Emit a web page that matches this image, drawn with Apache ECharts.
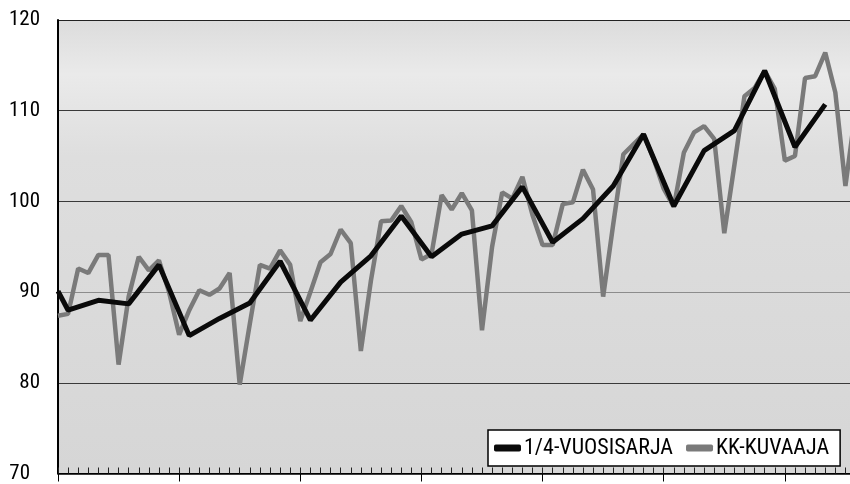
<!DOCTYPE html>
<html>
<head>
<meta charset="utf-8">
<script src="https://cdn.jsdelivr.net/npm/echarts@6/dist/echarts.min.js"></script>
<style>
html, body { margin: 0; padding: 0; background: #fff; overflow: hidden; }
/* chart is wider than the window: the last months run off the right edge as in the print */
#chart { width: 906px; height: 484px; }
</style>
</head>
<body>
<div id="chart"></div>
<script>
// quarterly series (plotted at mid-quarter month)
var quarterName = '1/4-VUOSISARJA';
var quarterMonth = [0, 1, 4, 7, 10, 13, 16, 19, 22, 25, 28, 31, 34, 37, 40, 43, 46, 49, 52, 55, 58, 61, 64, 67, 70, 73, 76];
var quarterValue = [90.1, 88.0, 89.1, 88.7, 93.0, 85.2, 87.1, 88.8, 93.4, 86.9, 91.1, 94.0, 98.4, 93.9, 96.4, 97.3,
    101.6, 95.5, 98.1, 101.7, 107.4, 99.5, 105.6, 107.8, 114.4, 106.0, 110.7];

// monthly series, one value per month from month 0
var monthName = 'KK-KUVAAJA';
var monthValue = [
    87.4, 87.6, 92.6, 92.1, 94.1, 94.1, 82.0, 89.5, 93.9, 92.4, 93.5, 90.0,
    85.3, 88.0, 90.2, 89.7, 90.4, 92.1, 79.8, 86.5, 93.0, 92.6, 94.6, 93.0,
    86.8, 90.0, 93.3, 94.2, 96.9, 95.4, 83.5, 91.3, 97.8, 97.9, 99.5, 97.7,
    93.6, 94.2, 100.7, 99.1, 100.9, 99.0, 85.8, 95.0, 101.0, 100.3, 102.7, 98.5,
    95.2, 95.2, 99.7, 99.9, 103.5, 101.3, 89.5, 97.5, 105.2, 106.3, 107.4, 104.7,
    101.4, 99.4, 105.4, 107.6, 108.3, 106.9, 96.5, 104.0, 111.6, 112.5, 114.4, 112.4,
    104.5, 105.0, 113.6, 113.8, 116.4, 112.0, 101.7, 110.0
];

var yMin = 70, yMax = 120, yStep = 10;
var monthsShown = 84;

var font = "'Liberation Sans Narrow', 'Roboto Condensed', 'DejaVu Sans Condensed', sans-serif";

var chart = echarts.init(document.getElementById('chart'));

var option = {
    animation: false,
    backgroundColor: '#fff',
    grid: {
        left: 58,
        right: 0,
        top: 20,
        bottom: 8,
        show: true,
        borderWidth: 0,
        backgroundColor: new echarts.graphic.LinearGradient(0, 0, 0, 1, [
            { offset: 0, color: '#dcdcdc' },
            { offset: 0.12, color: '#eaeaea' },
            { offset: 0.3, color: '#dedede' },
            { offset: 1, color: '#d6d6d6' }
        ])
    },
    legend: {
        left: 488,
        top: 430,
        padding: [7, 11, 7, 6],
        itemWidth: 27,
        itemHeight: 7,
        itemGap: 13,
        backgroundColor: '#fff',
        borderColor: '#000',
        borderWidth: 1.5,
        borderRadius: 0,
        icon: 'roundRect',
        data: [quarterName, monthName],
        textStyle: { fontFamily: font, fontSize: 22, color: '#000', padding: [0, 0, 0, -2] }
    },
    xAxis: [{
        type: 'value',
        min: 0,
        max: monthsShown,
        interval: 12,
        position: 'bottom',
        axisLine: { show: true, onZero: false, lineStyle: { color: '#000', width: 1.5 } },
        axisTick: { show: true, inside: false, length: 8, lineStyle: { color: '#000', width: 1 } },
        axisLabel: { show: false },
        splitLine: { show: false }
    }, {
        type: 'value',
        min: 0,
        max: monthsShown,
        interval: 1,
        position: 'bottom',
        axisLine: { show: false, onZero: false },
        axisTick: { show: true, inside: true, length: 6, lineStyle: { color: '#222', width: 1 } },
        axisLabel: { show: false },
        splitLine: { show: false }
    }],
    yAxis: {
        type: 'value',
        min: yMin,
        max: yMax,
        interval: yStep,
        axisLine: { show: true, lineStyle: { color: '#000', width: 2 } },
        axisTick: { show: false },
        axisLabel: {
            margin: 18,
            fontFamily: font,
            fontSize: 21,
            color: '#000',
            formatter: function (v) { return v === yMin ? '{low|' + v + '}' : String(v); },
            rich: { low: { fontFamily: font, fontSize: 21, color: '#000', padding: [0, 10, 0, 0] } }
        },
        // the 90 line is printed lighter in the original
        splitLine: { show: true, lineStyle: { color: ['#000', '#3a3a3a', '#8c8c8c', '#3a3a3a', '#3a3a3a', '#222'], width: 1 } }
    },
    series: [{
        name: monthName,
        type: 'line',
        data: monthValue.map(function (v, i) { return [i, v]; }),
        symbol: 'none',
        lineStyle: { color: '#7a7a7a', width: 4.5 },
        itemStyle: { color: '#7a7a7a' }
    }, {
        name: quarterName,
        type: 'line',
        data: quarterMonth.map(function (m, i) { return [m, quarterValue[i]]; }),
        symbol: 'none',
        lineStyle: { color: '#0a0a0a', width: 5 },
        itemStyle: { color: '#0a0a0a' }
    }]
};

chart.setOption(option);
</script>
</body>
</html>
